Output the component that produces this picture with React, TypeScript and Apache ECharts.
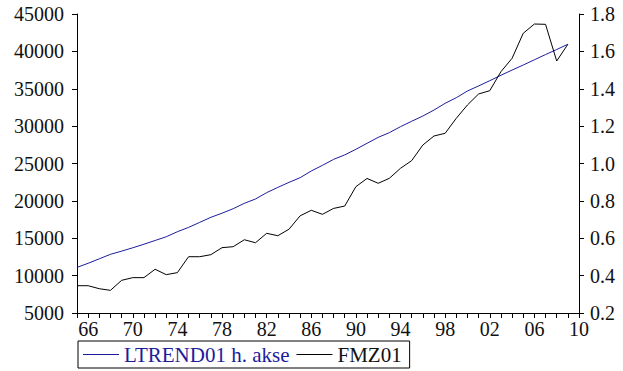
import React, { useEffect, useRef } from "react";
import * as echarts from "echarts";

const years: string[] = [];
for (let y = 1965; y <= 2010; y++) years.push(String(y));

const ltrend01: (number | null)[] = [
  0.444, 0.466, 0.49, 0.514, 0.531, 0.549, 0.568, 0.588, 0.608, 0.635,
  0.658, 0.685, 0.712, 0.734, 0.758, 0.787, 0.81, 0.844, 0.872, 0.899,
  0.924, 0.96, 0.99, 1.022, 1.046, 1.076, 1.108, 1.14, 1.165, 1.197,
  1.226, 1.254, 1.286, 1.322, 1.352, 1.388, 1.415, 1.443, 1.472, 1.5,
  1.527, 1.555, 1.583, 1.61, 1.638, null,
];

const fmz01: (number | null)[] = [
  8650, 8650, 8250, 8030, 9370, 9730, 9730, 10850, 10130, 10400,
  12530, 12530, 12800, 13740, 13870, 14800, 14400, 15660, 15340, 16200,
  18000, 18740, 18200, 18990, 19310, 21900, 23000, 22350, 23020, 24360,
  25380, 27470, 28680, 29040, 31050, 32830, 34300, 34740, 37280, 39070,
  42420, 43660, 43620, 38710, 40950, null,
];

const BLUE = "#1c1c9c";
const FONT = "Liberation Serif";
const TXT = "#111";

export default function App() {
  const ref = useRef<HTMLDivElement>(null);
  useEffect(() => {
    if (!ref.current) return;
    const chart = echarts.init(ref.current, null, { renderer: "svg" });
    chart.setOption({
      animation: false,
      backgroundColor: "#fff",
      textStyle: { fontFamily: FONT },
      grid: { left: 77, right: 44, top: 14, bottom: 58, containLabel: false },
      legend: {
        left: 78,
        top: 341,
        orient: "horizontal",
        borderColor: "#000",
        borderWidth: 1,
        borderRadius: 0,
        padding: [3, 8, 3, 5],
        icon: "rect",
        itemWidth: 36,
        itemHeight: 1,
        itemGap: 7,
        textStyle: { fontFamily: FONT, fontSize: 21, color: TXT },
        data: [
          { name: "LTREND01 h. akse", textStyle: { color: BLUE } },
          { name: "FMZ01", textStyle: { color: TXT } },
        ],
      },
      xAxis: {
        type: "category",
        data: years,
        boundaryGap: false,
        axisLine: { lineStyle: { color: "#000", width: 1 } },
        axisTick: { show: true, interval: 0, length: 5, lineStyle: { color: "#000" } },
        axisLabel: {
          interval: (index: number, value: string) => (Number(value) - 1966) % 4 === 0,
          formatter: (v: string) => v.slice(2),
          fontFamily: FONT,
          fontSize: 20,
          color: TXT,
          margin: 6,
        },
        splitLine: { show: false },
      },
      yAxis: [
        {
          type: "value",
          min: 5000,
          max: 45000,
          interval: 5000,
          position: "left",
          axisLine: { show: true, lineStyle: { color: "#000", width: 1 } },
          axisTick: { show: true, length: 5, lineStyle: { color: "#000" } },
          axisLabel: {
            fontFamily: FONT,
            fontSize: 20,
            color: TXT,
            margin: 13,
            formatter: (v: number) => String(v),
          },
          splitLine: { show: false },
        },
        {
          type: "value",
          min: 0.2,
          max: 1.8,
          interval: 0.2,
          position: "right",
          axisLine: { show: true, lineStyle: { color: "#000", width: 1 } },
          axisTick: { show: true, length: 5, lineStyle: { color: "#000" } },
          axisLabel: {
            fontFamily: FONT,
            fontSize: 20,
            color: TXT,
            margin: 11,
            formatter: (v: number) => v.toFixed(1),
          },
          splitLine: { show: false },
        },
      ],
      series: [
        {
          name: "LTREND01 h. akse",
          type: "line",
          yAxisIndex: 1,
          data: ltrend01,
          symbol: "none",
          lineStyle: { color: BLUE, width: 1 },
          itemStyle: { color: BLUE },
        },
        {
          name: "FMZ01",
          type: "line",
          yAxisIndex: 0,
          data: fmz01,
          symbol: "none",
          lineStyle: { color: "#000", width: 1 },
          itemStyle: { color: "#000" },
        },
      ],
    });
    return () => chart.dispose();
  }, []);
  return (
    <div
      ref={ref}
      style={{ position: "fixed", left: 0, top: 0, width: 623, height: 371, background: "#fff" }}
    />
  );
}
